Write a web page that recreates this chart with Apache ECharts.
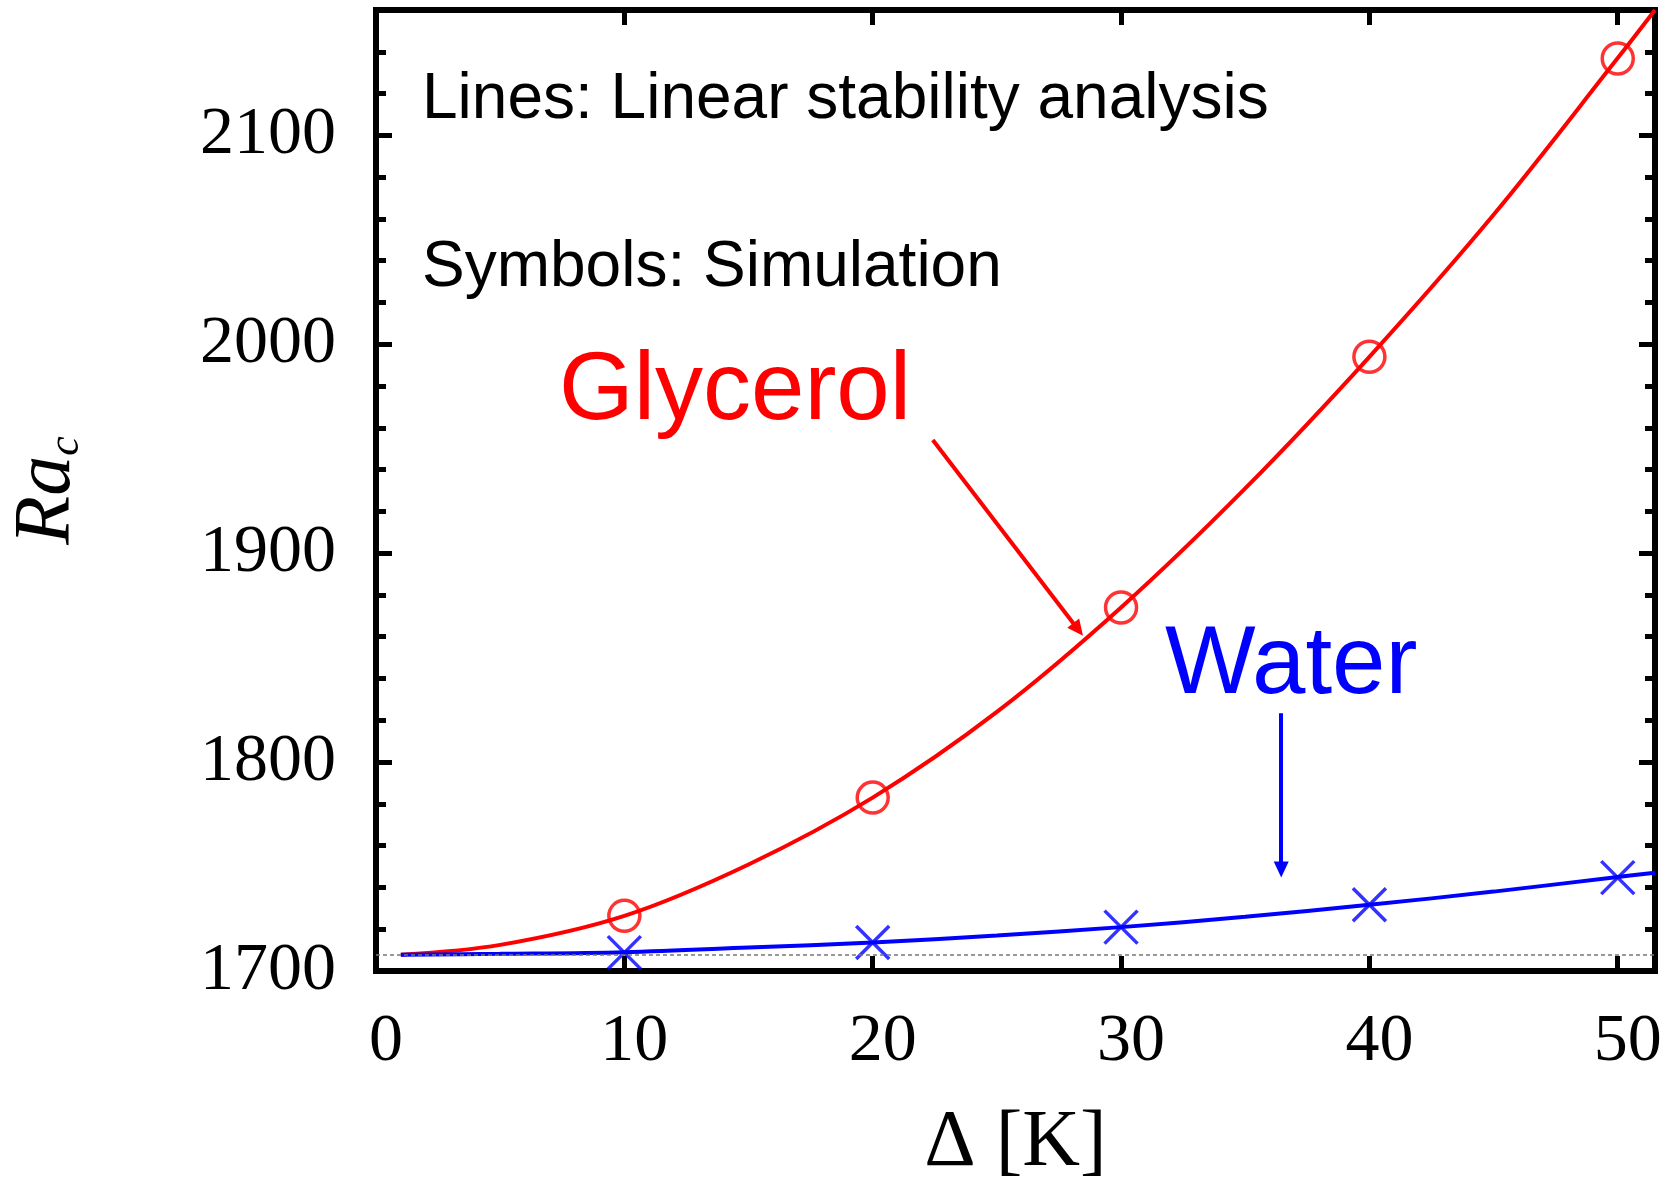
<!DOCTYPE html>
<html>
<head>
<meta charset="utf-8">
<title>Critical Rayleigh number vs temperature difference</title>
<script src="https://cdn.jsdelivr.net/npm/echarts@6/dist/echarts.min.js"></script>
<style>
  html, body { margin: 0; padding: 0; background: #fff; }
  #chart { width: 1668px; height: 1181px; }
</style>
</head>
<body>
<div id="chart"></div>
<script>
// Temperature difference Δ [K] at which the simulations were run
const deltaSim = [10, 20, 30, 40, 50];
// Simulated onset Rayleigh numbers (symbols)
const glycerolSim = [1726.4, 1783, 1874, 1994, 2136.8];
const waterSim = [1708.8, 1713.6, 1721, 1731.7, 1744.7];

// Linear stability analysis curves (lines)
const deltaLsa = [1, 5, 10, 15, 20, 25, 30, 35, 40, 45, 50, 51.5];
const glycerolLsa = [1707.8, 1712.5, 1726.4, 1751, 1783, 1824, 1874, 1931, 1994, 2062, 2137, 2160];
const waterLsa = [1707.8, 1708.2, 1709, 1711.2, 1713.6, 1717, 1721, 1726, 1731.7, 1738, 1745, 1747];

// Classical Rayleigh–Bénard threshold (dashed reference)
const raClassic = 1707.76;

// Arrow anchors [Δ, Ra] from label to curve
const glycerolArrow = [[22.42, 1954.2], [28.27, 1863.5]];
const waterArrow = [[36.45, 1823.4], [36.45, 1748.6]];

// Axis ranges and tick steps
const xRange = [0, 51.5];
const yRange = [1700, 2160];
const xStep = 10;
const yStep = 100;
const yMinorStep = 20;

const RED = '#ff0000';
const BLUE = '#0000ff';
const SERIF = '"Liberation Serif", "Times New Roman", serif';
const SANS = '"Liberation Sans", Arial, sans-serif';

const pairs = (xs, ys) => xs.map((x, i) => [x, ys[i]]);

const chart = echarts.init(document.getElementById('chart'), null, { renderer: 'canvas' });

const frameLine = { show: true, onZero: false, lineStyle: { color: '#000', width: 6, cap: 'square' } };
const noLine = { show: false, onZero: false };

function xAxisDef(position, withLabels) {
  return {
    type: 'value', position: position,
    min: xRange[0], max: xRange[1], interval: xStep,
    axisLine: frameLine,
    axisTick: { show: true, inside: true, length: 15, lineStyle: { color: '#000', width: 5 } },
    splitLine: { show: false },
    axisLabel: withLabels ? {
      show: true, margin: 37, color: '#000', fontFamily: SERIF, fontSize: 68,
      padding: [0, 0, 0, 20],
      showMaxLabel: true,
      formatter: v => (Math.abs(v % xStep) < 1e-9 ? String(v) : '')
    } : { show: false },
    name: withLabels ? 'Δ [K]' : '',
    nameLocation: 'middle', nameGap: 133,
    nameTextStyle: { color: '#000', fontFamily: SERIF, fontSize: 80 }
  };
}

function yAxisDef(position, step, tickLen, showLine, withLabels) {
  return {
    type: 'value', position: position,
    min: yRange[0], max: yRange[1], interval: step,
    axisLine: showLine ? frameLine : noLine,
    axisTick: { show: true, inside: true, length: tickLen, lineStyle: { color: '#000', width: 5 } },
    splitLine: { show: false },
    axisLabel: withLabels ? {
      show: true, margin: 40, color: '#000', fontFamily: SERIF, fontSize: 68,
      formatter: v => (Math.abs(v % yStep) < 1e-9 ? String(v) : '')
    } : { show: false },
    name: withLabels ? '{r|Ra}{c|c}' : '',
    nameLocation: 'middle', nameRotate: 90, nameGap: 288,
    nameTextStyle: {
      color: '#000',
      rich: {
        r: { fontFamily: SERIF, fontStyle: 'italic', fontSize: 80, lineHeight: 80, color: '#000' },
        c: { fontFamily: SERIF, fontStyle: 'italic', fontSize: 44, lineHeight: 36, verticalAlign: 'bottom', color: '#000' }
      }
    }
  };
}

function textEl(text, x, y, size, color) {
  return {
    type: 'text', x: x, y: y, silent: true, z: 50,
    style: {
      text: text, fill: color, fontFamily: SANS, fontSize: size,
      align: 'left', verticalAlign: 'middle', textAlign: 'left', textVerticalAlign: 'middle'
    }
  };
}

const option = {
  backgroundColor: '#fff',
  animation: false,
  grid: { left: 376, right: 13, top: 10, bottom: 210, containLabel: false, outerBoundsMode: 'none' },
  xAxis: [xAxisDef('bottom', true), xAxisDef('top', false)],
  yAxis: [
    yAxisDef('left', yStep, 16, true, true),
    yAxisDef('left', yMinorStep, 10, false, false),
    yAxisDef('right', yStep, 16, true, false),
    yAxisDef('right', yMinorStep, 10, false, false)
  ],
  graphic: [
    textEl('Lines: Linear stability analysis', 422, 100, 64, '#000'),
    textEl('Symbols: Simulation', 422, 268, 64, '#000'),
    textEl('Glycerol', 559, 393, 96, RED),
    textEl('Water', 1165, 667, 96, BLUE)
  ],
  series: [
    {
      name: 'Glycerol (LSA)', type: 'line', xAxisIndex: 0, yAxisIndex: 0,
      data: pairs(deltaLsa, glycerolLsa),
      smooth: 0.35, showSymbol: false, clip: true, z: 3,
      lineStyle: { color: RED, width: 4 },
      markLine: {
        silent: true, symbol: ['none', 'triangle'], symbolSize: [15, 16],
        label: { show: false },
        lineStyle: { color: RED, width: 4, type: 'solid' },
        data: [[{ coord: glycerolArrow[0] }, { coord: glycerolArrow[1] }]]
      }
    },
    {
      name: 'Water (LSA)', type: 'line', xAxisIndex: 0, yAxisIndex: 0,
      data: pairs(deltaLsa, waterLsa),
      smooth: 0.35, showSymbol: false, clip: true, z: 3,
      lineStyle: { color: BLUE, width: 4 },
      markLine: {
        silent: true, symbol: ['none', 'triangle'], symbolSize: [15, 16],
        label: { show: false },
        lineStyle: { color: BLUE, width: 4, type: 'solid' },
        data: [[{ coord: waterArrow[0] }, { coord: waterArrow[1] }]]
      }
    },
    {
      name: 'Classical threshold', type: 'line', xAxisIndex: 0, yAxisIndex: 0,
      data: [], z: 1,
      markLine: {
        silent: true, symbol: ['none', 'none'],
        label: { show: false },
        lineStyle: { color: '#777', width: 1.5, type: [4, 3] },
        data: [{ yAxis: raClassic }]
      }
    },
    {
      name: 'Glycerol (simulation)', type: 'scatter', xAxisIndex: 0, yAxisIndex: 0,
      data: pairs(deltaSim, glycerolSim),
      symbol: 'circle', symbolSize: 31, z: 4,
      itemStyle: { color: 'rgba(0,0,0,0)', borderColor: RED, borderWidth: 3.5 }
    },
    {
      name: 'Water (simulation)', type: 'scatter', xAxisIndex: 0, yAxisIndex: 0,
      data: pairs(deltaSim, waterSim),
      symbol: 'path://M0,0L10,10M10,0L0,10', symbolSize: 33, z: 4,
      itemStyle: { color: 'rgba(0,0,0,0)', borderColor: BLUE, borderWidth: 3.5 }
    }
  ]
};

chart.setOption(option);
</script>
</body>
</html>
